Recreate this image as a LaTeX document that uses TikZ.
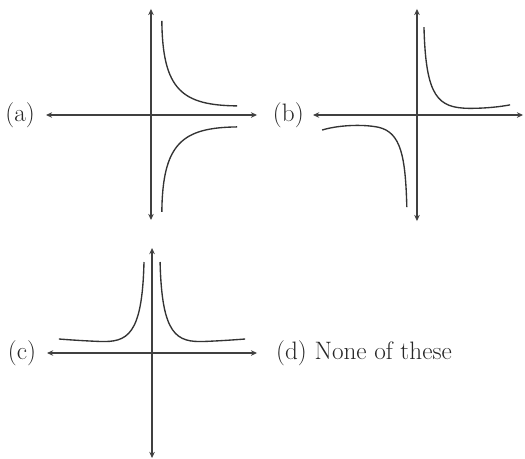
\documentclass[tikz,border=0pt]{standalone}
\usepackage{amsmath}
\usepackage{amssymb}
\usetikzlibrary{arrows.meta}

\begin{document}
\begin{tikzpicture}[scale=1,
    axis/.style={{Stealth[length=5pt,width=4.5pt]}-{Stealth[length=5pt,width=4.5pt]}, line width=1.2pt, draw=black!75},
    curve/.style={line width=1.1pt, draw=black!80},
    every node/.style={font=\fontsize{20.5}{24}\selectfont, text=black!85, inner sep=0pt}]
    \useasboundingbox (-4.314,-9.8) rectangle (10.686,3.286);
    % (a)
    \draw[axis] (-3.0,0.0) -- (3.03,0.0);
    \draw[axis] (0.0,-3.0) -- (0.0,3.03);
    \draw[curve] (0.31,2.69) .. controls (0.33,0.7) and (0.9,0.28) .. (2.46,0.26);
    \draw[curve] (0.31,-2.77) .. controls (0.33,-0.8) and (0.9,-0.36) .. (2.46,-0.34);
    \node[anchor=east] (labela) at (-3.31,0.0) {(a)};
    % (b)
    \draw[axis] (4.63,0.0) -- (10.63,0.0);
    \draw[axis] (7.6,-3.03) -- (7.6,3.03);
    \draw[curve] (7.8,2.51) .. controls (7.85,0.5) and (8.2,0.2) .. (9.1,0.19) .. controls (9.6,0.19) and (10.0,0.24) .. (10.26,0.29);
    \draw[curve] (4.89,-0.43) .. controls (5.3,-0.3) and (6.0,-0.25) .. (6.5,-0.35) .. controls (7.15,-0.5) and (7.27,-1.2) .. (7.31,-2.63);
    \node[anchor=east] (labelb) at (4.37,0.0) {(b)};
    % (c)
    \draw[axis] (-2.97,-6.8) -- (3.03,-6.8);
    \draw[axis] (0.03,-9.8) -- (0.03,-3.8);
    \draw[curve] (0.26,-4.2) .. controls (0.31,-6.3) and (0.73,-6.5) .. (1.53,-6.47) .. controls (2.03,-6.45) and (2.43,-6.42) .. (2.69,-6.4);
    \draw[curve] (-0.2,-4.2) .. controls (-0.25,-6.3) and (-0.67,-6.5) .. (-1.47,-6.47) .. controls (-1.97,-6.45) and (-2.37,-6.42) .. (-2.63,-6.4);
    \node[anchor=east] (labelc) at (-3.28,-6.8) {(c)};
    % (d)
    \node[anchor=west] (labeld) at (3.57,-6.8) {(d) None of these};
\end{tikzpicture}
\end{document}
